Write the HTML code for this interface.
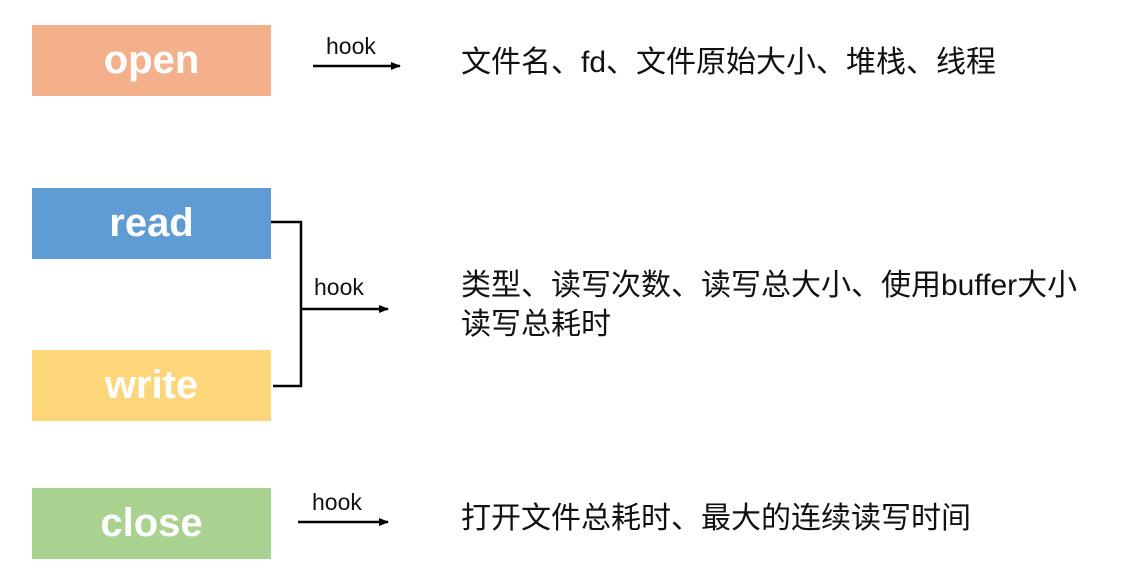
<!DOCTYPE html>
<html><head><meta charset="utf-8"><style>
body{margin:0;width:1140px;height:584px;background:#fff;position:relative;overflow:hidden;font-family:"Liberation Sans","Noto Sans CJK SC",sans-serif}
.b{position:absolute;left:32px;width:239px;height:71px;color:#fff;font-size:40px;font-weight:bold;text-align:center;line-height:71px}
.t{position:absolute;font-size:30px;color:#111;white-space:nowrap}
.h{position:absolute;font-size:23px;color:#111}
</style></head><body>
<div class="b" style="top:25px;background:#F3B08B">open</div>
<div class="b" style="top:188px;background:#5E9CD3">read</div>
<div class="b" style="top:350px;background:#FED67A">write</div>
<div class="b" style="top:488px;background:#A9D18F">close</div>
<svg width="1140" height="584" style="position:absolute;left:0;top:0">
<defs><marker id="a" markerWidth="10" markerHeight="8" refX="9" refY="4" orient="auto" markerUnits="userSpaceOnUse"><path d="M0,0 L10,4 L0,8z" fill="#000"/></marker></defs>
<g stroke="#000" stroke-width="2.5" fill="none">
<line x1="313" y1="66" x2="400" y2="66" marker-end="url(#a)"/>
<polyline points="271,222 301,222 301,386 273,386"/>
<line x1="301" y1="309" x2="388" y2="309" marker-end="url(#a)"/>
<line x1="298" y1="522" x2="388" y2="522" marker-end="url(#a)"/>
</g></svg>
<div class="h" style="left:326px;top:33px">hook</div>
<div class="h" style="left:314px;top:274px">hook</div>
<div class="h" style="left:312px;top:489px">hook</div>
<div class="t" style="left:461px;top:37px">文件名、fd、文件原始大小、堆栈、线程</div>
<div class="t" style="left:461px;top:260px">类型、读写次数、读写总大小、使用buffer大小</div>
<div class="t" style="left:461px;top:299px">读写总耗时</div>
<div class="t" style="left:461px;top:493px">打开文件总耗时、最大的连续读写时间</div>
</body></html>
